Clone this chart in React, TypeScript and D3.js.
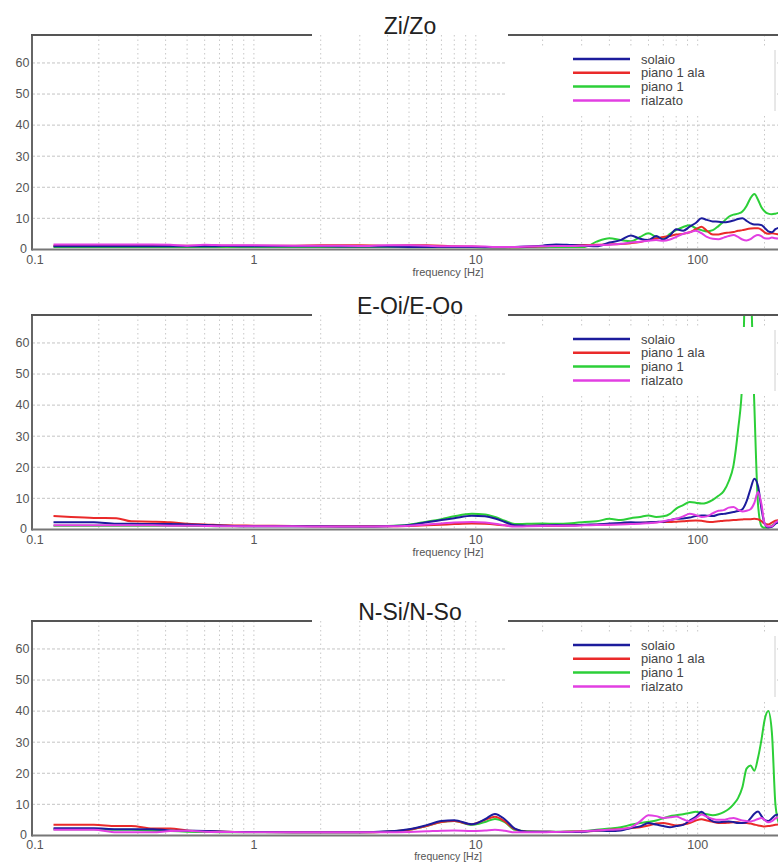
import React from 'react';
import * as d3 from 'd3';

const FREQ = [0.125,0.15,0.19,0.24,0.28,0.35,0.42,0.5,0.6,0.75,1,1.5,2,3,4,5,6,7,8,9.6,11,12.2,13.5,15,17,20,23,27,31,35,40,45,50,55,60,65,70,75,80,86,92,98,104,110,117,124,131,138,145,152,159,166,173,180,187,194,200,208,216,224,232];

// Zi/Zo
const ZI_SOLAIO = [1.0,1.0,1.0,1.0,1.0,1.0,1.0,1.0,1.0,1.1, 1.0,1.0,1.0,0.9,0.9,0.8,0.8,0.8,0.8,0.8, 0.7,0.7,0.7,0.8,0.9,1.2,1.6,1.4,1.2,1.0, 2.2,3.0,4.5,3.4,3.0,4.3,3.2,4.5,6.5,6.0, 7.3,8.5,10.0,9.5,9.0,8.9,8.7,8.9,9.3,9.8, 10.0,9.2,8.4,8.0,8.0,7.8,7.0,5.8,5.5,6.5, 7.0];
const ZI_ALA = [1.2,1.2,1.2,1.2,1.2,1.2,1.2,1.2,1.2,1.2, 1.2,1.2,1.3,1.3,1.2,1.3,1.3,1.2,1.0,0.9, 0.8,0.7,0.7,0.7,0.8,1.0,1.2,1.3,1.4,1.5, 1.6,1.7,2.0,2.4,3.0,3.5,4.0,4.3,4.8,5.0, 5.5,6.5,7.3,6.0,4.8,4.8,5.2,5.4,5.6,6.0, 6.2,6.5,6.7,6.8,6.8,6.3,5.5,5.0,5.2,5.0, 4.8];
const ZI_P1 = [0.8,0.8,0.8,0.8,0.8,0.8,0.8,0.8,0.8,0.8, 0.8,0.8,0.8,0.8,0.8,0.7,0.7,0.7,0.7,0.7, 0.6,0.6,0.6,0.6,0.7,0.7,0.8,0.8,0.8,2.5, 3.6,3.0,2.6,4.0,5.2,4.0,3.5,5.0,6.2,7.2, 7.8,6.8,6.2,5.8,6.2,7.5,9.0,10.5,11.2,11.5, 12.2,14.0,16.5,17.8,16.0,13.5,12.3,11.5,11.3,11.5, 11.8];
const ZI_RIAL = [1.6,1.6,1.6,1.6,1.6,1.6,1.5,1.2,1.5,1.3, 1.3,1.2,1.2,1.1,1.3,1.3,1.2,1.0,1.0,1.0, 0.9,0.8,0.8,0.8,0.9,1.0,1.1,1.1,1.2,1.3, 1.5,1.8,2.2,2.5,2.8,3.0,2.8,3.2,4.0,5.0, 5.5,6.0,5.2,4.0,3.4,3.3,3.8,4.3,4.6,4.0, 3.2,2.9,3.3,4.2,4.6,4.2,3.6,3.5,3.8,3.6, 3.5];

// E-Oi/E-Oo
const EO_SOLAIO = [2.3,2.3,2.3,1.8,1.8,1.7,1.7,1.6,1.4,1.2, 1.0,1.0,1.0,0.9,1.0,1.4,2.3,3.0,3.6,4.4, 4.2,3.5,2.4,1.3,1.2,1.3,1.4,1.3,1.5,1.6, 1.9,2.1,2.3,2.2,2.3,2.4,2.5,3.0,3.4,3.5, 3.8,4.3,4.5,4.4,4.3,4.8,5.0,5.3,5.6,5.9, 6.5,9.0,13.0,16.3,14.0,6.5,2.0,0.6,0.8,1.8, 2.4];
const EO_ALA = [4.3,4.0,3.7,3.6,2.6,2.5,2.3,1.8,1.6,1.3, 1.2,1.1,1.0,1.0,1.0,1.1,1.3,1.5,1.7,1.9, 1.8,1.6,1.3,1.1,1.1,1.2,1.2,1.3,1.4,1.5, 1.6,1.8,2.0,2.1,2.2,2.3,2.4,2.4,2.5,2.6, 2.8,2.9,2.8,2.5,2.4,2.6,2.8,2.9,3.0,3.1, 3.2,3.3,3.3,3.4,3.3,2.6,1.8,1.6,2.2,2.8, 3.0];
const EO_P1 = [1.2,1.2,1.2,1.2,1.2,1.2,1.2,1.1,1.1,1.0, 1.0,1.0,1.0,1.0,1.1,1.5,2.5,3.3,4.2,5.0, 4.8,4.0,2.8,1.7,1.8,1.9,1.8,2.0,2.4,2.6, 3.4,3.0,3.6,4.0,4.5,4.0,4.2,5.0,6.7,7.8, 8.8,8.6,8.3,8.6,9.5,10.8,12.3,15.5,20.6,32.0, 48.0,90.0,80.0,40.0,8.0,1.0,0.5,0.6,1.2,2.0, 2.4];
const EO_RIAL = [1.3,1.3,1.3,1.3,1.3,1.3,1.2,1.2,1.1,1.0, 1.0,1.0,0.9,0.9,1.0,1.2,1.6,1.9,2.2,2.4, 2.2,1.8,1.3,0.9,1.0,1.1,1.2,1.2,1.3,1.4, 1.5,1.6,1.7,1.8,2.0,2.2,2.6,3.0,3.4,4.2, 5.0,4.6,4.0,4.2,5.2,6.0,6.2,7.0,7.2,6.3, 5.8,6.0,6.5,8.5,12.0,8.0,2.0,0.9,1.0,2.2, 2.8];

// N-Si/N-So
const NS_SOLAIO = [2.3,2.3,2.3,2.0,2.0,2.0,1.6,1.5,1.4,1.2, 1.1,1.0,1.0,1.0,1.3,2.0,3.3,4.6,4.9,3.6, 5.2,6.9,5.2,2.2,1.2,1.2,1.1,1.1,1.2,1.6, 1.4,1.6,2.4,2.9,4.0,3.5,3.0,2.6,3.0,3.4, 4.8,6.0,7.6,6.0,4.5,4.2,4.4,4.5,4.3,4.0, 4.0,4.2,5.5,7.0,7.7,6.2,5.0,4.6,5.5,6.5, 6.8];
const NS_ALA = [3.4,3.4,3.4,3.0,3.0,2.2,2.2,1.6,1.4,1.2, 1.1,1.0,1.0,1.0,1.2,1.8,3.0,4.3,4.6,3.6, 5.0,6.0,4.5,2.0,1.2,1.2,1.1,1.2,1.3,1.5, 1.8,2.0,2.4,2.6,3.2,3.8,4.0,3.6,3.2,3.5, 4.0,4.8,5.2,4.8,4.4,4.0,4.0,4.1,4.2,4.2, 4.0,4.0,3.8,3.5,3.2,3.0,2.9,3.0,3.2,3.4, 3.5];
const NS_P1 = [2.0,2.0,2.0,1.8,1.8,1.5,1.4,1.2,1.1,1.0, 1.0,1.0,1.0,1.0,1.2,1.8,3.0,4.3,4.6,3.4, 4.3,5.3,4.3,1.8,1.3,1.2,1.2,1.3,1.4,1.8, 2.2,2.6,3.4,4.0,4.4,4.8,5.5,6.2,6.5,6.8, 7.2,7.6,7.2,6.8,6.5,6.8,7.5,8.5,10.0,12.0, 15.5,21.5,22.5,20.8,25.0,31.0,37.0,40.0,33.0,10.0, 4.0];
const NS_RIAL = [1.8,1.8,1.8,1.0,1.0,1.0,1.4,1.5,1.2,1.1, 1.0,1.0,1.0,1.0,1.0,1.1,1.3,1.5,1.6,1.4, 1.6,1.8,1.5,1.0,1.0,1.0,1.1,1.2,1.3,1.6, 1.8,2.0,2.6,4.5,6.5,6.2,5.6,5.8,6.1,5.2, 4.5,5.5,6.7,6.0,5.3,5.0,5.0,5.4,5.6,5.2, 4.8,4.6,4.5,4.8,5.3,5.6,5.0,4.2,4.6,5.5, 6.0];

const TITLES = ['Zi/Zo', 'E-Oi/E-Oo', 'N-Si/N-So'];
const SERIES_NAMES = ['solaio', 'piano 1 ala', 'piano 1', 'rialzato'];
const PANEL_DATA = [
  [ZI_SOLAIO, ZI_ALA, ZI_P1, ZI_RIAL],
  [EO_SOLAIO, EO_ALA, EO_P1, EO_RIAL],
  [NS_SOLAIO, NS_ALA, NS_P1, NS_RIAL],
];
const COLORS = ['#1c1c9c', '#ea2a2a', '#2ccf38', '#e23fe2'];
const DRAW_ORDER = [2, 1, 0, 3];
const Y_TICKS = [0, 10, 20, 30, 40, 50, 60];
const X_TICKS = [0.1, 1, 10, 100];
const GRID_FREQS = [0.2,0.3,0.4,0.5,0.6,0.7,0.8,0.9,1,2,3,4,5,6,7,8,9,10,20,30,40,50,60,70,80,90,100,200];

const W = 778;
const H = 862;
const PANEL_TOPS = [35, 315, 621];
const PANEL_H = 214.4;
const FONT = '"Liberation Sans", Arial, sans-serif';

const x = d3.scaleLog().domain([0.1, 250]).range([32, 786]);

function Panel({ idx }: { idx: number }) {
  const top = PANEL_TOPS[idx];
  const bottom = top + PANEL_H;
  const y = d3.scaleLinear().domain([0, 69]).range([bottom, top]);
  const line = d3
    .line<number>()
    .x((_, i) => x(FREQ[i]))
    .y((d) => y(d))
    .curve(d3.curveMonotoneX);
  const clipId = `clip${idx}`;
  const series = PANEL_DATA[idx];
  const legendX1 = 573;
  const legendX2 = 630;
  const last = bottom + 23 > H - 6.5;
  const freqLabelY = last ? H - 6 : bottom + 23;
  const tickLabelY = last ? bottom + 9 : bottom + 10;
  return (
    <g>
      <defs>
        <clipPath id={clipId}>
          <rect x={32} y={top} width={786 - 32} height={PANEL_H} />
        </clipPath>
      </defs>
      {Y_TICKS.filter((t) => t > 0).map((t) => (
        <line key={'h' + t} x1={32} x2={786} y1={y(t)} y2={y(t)} stroke="#c4c4c4" strokeWidth={1} strokeDasharray="3,2" />
      ))}
      {GRID_FREQS.map((f) => (
        <line key={'v' + f} x1={x(f)} x2={x(f)} y1={top} y2={bottom} stroke="#c8c8c8" strokeWidth={1} strokeDasharray="1.5,3" />
      ))}
      <g clipPath={`url(#${clipId})`}>
        {DRAW_ORDER.map((s) => (
          <path key={s} d={line(series[s]) || ''} fill="none" stroke={COLORS[s]} strokeWidth={2} strokeLinejoin="round" />
        ))}
      </g>
      <rect x={507} y={top + 12} width={268} height={67} fill="#ffffff" />
      <line x1={775} x2={775} y1={top + 15} y2={top + 76} stroke="#d0d0d0" strokeWidth={1} />
      {SERIES_NAMES.map((name, i) => {
        const ly = top + 24 + i * 13.8;
        return (
          <g key={name}>
            <line x1={legendX1} x2={legendX2} y1={ly} y2={ly} stroke={COLORS[i]} strokeWidth={2.5} />
            <text x={641} y={ly} dy="0.35em" fontSize={13} fontFamily={FONT} fill="#444">
              {name}
            </text>
          </g>
        );
      })}
      <line x1={32} x2={32} y1={top - 1} y2={bottom + 1} stroke="#666" strokeWidth={2} />
      <line x1={31} x2={312} y1={top} y2={top} stroke="#555" strokeWidth={2} />
      <line x1={508} x2={W} y1={top} y2={top} stroke="#555" strokeWidth={2} />
      <line x1={32} x2={W} y1={bottom} y2={bottom} stroke="#777" strokeWidth={2} />
      <text x={410} y={top - 1} textAnchor="middle" fontSize={23} fontFamily={FONT} fill="#222">
        {TITLES[idx]}
      </text>
      {Y_TICKS.map((t) => (
        <text key={'yl' + t} x={t === 0 ? 27 : 29.5} y={y(t) - (t === 0 ? 1 : 0)} dy="0.35em" textAnchor="end" fontSize={12.5} fontFamily={FONT} fill="#555">
          {t}
        </text>
      ))}
      {X_TICKS.map((f) => (
        <text key={'xl' + f} x={x(f) + (f === 0.1 ? 3 : 0)} y={tickLabelY} dy="0.35em" textAnchor="middle" fontSize={12.5} fontFamily={FONT} fill="#555">
          {f}
        </text>
      ))}
      <text x={448} y={freqLabelY} dy="0.35em" textAnchor="middle" fontSize={last ? 10.5 : 11} fontFamily={FONT} fill="#555">
        frequency [Hz]
      </text>
    </g>
  );
}

export default function App() {
  return (
    <svg width={W} height={H} viewBox={`0 0 ${W} ${H}`} style={{ position: 'absolute', left: 0, top: 0, background: '#fff' }}>
      <rect x={0} y={0} width={W} height={H} fill="#fff" />
      {[0, 1, 2].map((i) => (
        <Panel key={i} idx={i} />
      ))}
    </svg>
  );
}
